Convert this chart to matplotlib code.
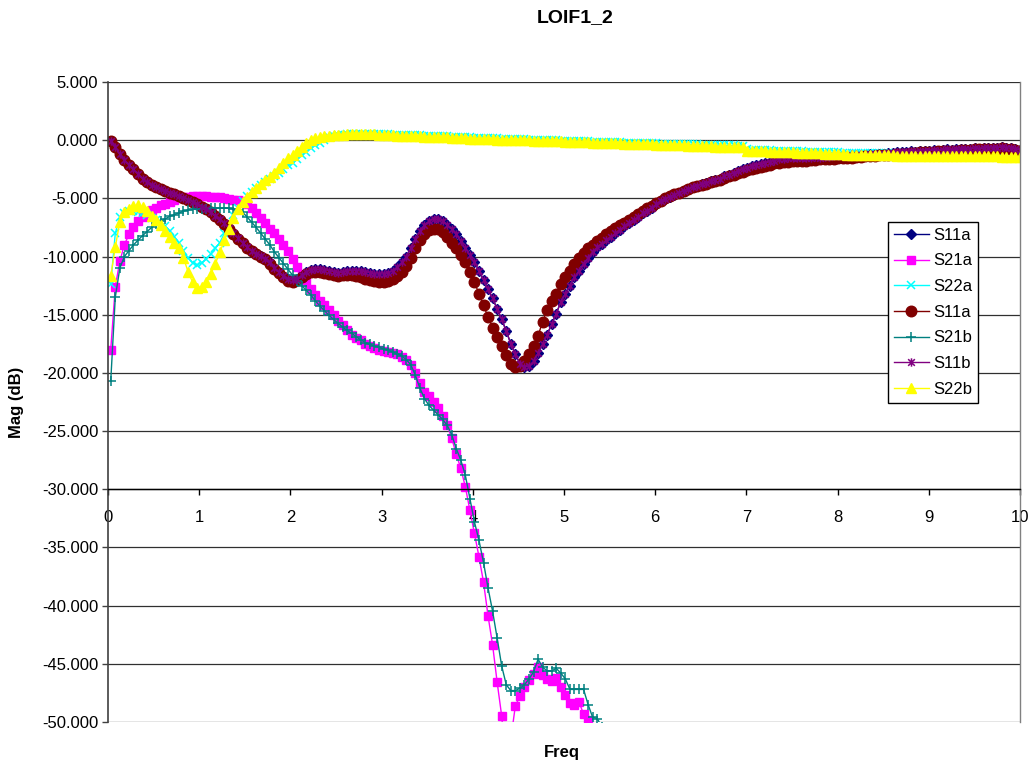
import numpy as np
import matplotlib
matplotlib.use("Agg")
import matplotlib.pyplot as plt
from matplotlib.path import Path
from matplotlib.ticker import FixedLocator, FormatStrFormatter

plt.rcParams['font.family'] = ['Liberation Sans', 'DejaVu Sans']

# ---------------- data ----------------
# uniform sweep: 201 points from 0.03 to 10 (Freq)
FREQ_START = 0.03
FREQ_STOP = 10.0
N_POINTS = 201
freq = np.linspace(FREQ_START, FREQ_STOP, N_POINTS)

series_names = ["S11a", "S21a", "S22a", "S11a", "S21b", "S11b", "S22b"]

s11b = [
    -0.1, -0.6, -1.2, -1.7, -2.1, -2.5, -2.9, -3.3, -3.6, -3.85,
    -4.05, -4.2, -4.35, -4.5, -4.65, -4.8, -4.95, -5.1, -5.3, -5.5,
    -5.7, -5.95, -6.2, -6.5, -6.8, -7.15, -7.55, -8.0, -8.4, -8.8,
    -9.2, -9.5, -9.75, -9.95, -10.2, -10.5, -10.95, -11.35, -11.7, -11.95,
    -12.0, -11.9, -11.6, -11.3, -11.15, -11.1, -11.1, -11.15, -11.2, -11.3,
    -11.4, -11.35, -11.25, -11.2, -11.2, -11.25, -11.3, -11.4, -11.5, -11.5,
    -11.5, -11.4, -11.2, -10.9, -10.5, -10.0, -9.3, -8.5, -7.8, -7.3,
    -6.95, -6.8, -6.8, -6.95, -7.25, -7.6, -8.1, -8.7, -9.3, -9.9,
    -10.5, -11.2, -12.0, -12.8, -13.6, -14.5, -15.4, -16.4, -17.5, -18.4,
    -19.2, -19.5, -19.4, -19.0, -18.3, -17.5, -16.7, -15.8, -14.9, -13.9,
    -13.2, -12.5, -11.8, -11.2, -10.6, -10.1, -9.6, -9.2, -8.9, -8.6,
    -8.3, -8.0, -7.7, -7.4, -7.1, -6.85, -6.6, -6.3, -6.05, -5.8,
    -5.5, -5.25, -5.05, -4.85, -4.7, -4.5, -4.35, -4.2, -4.05, -3.9,
    -3.8, -3.7, -3.55, -3.4, -3.3, -3.1, -2.95, -2.8, -2.65, -2.5,
    -2.4, -2.25, -2.15, -2.05, -1.95, -1.85, -1.75, -1.65, -1.6, -1.55,
    -1.55, -1.5, -1.5, -1.5, -1.5, -1.45, -1.5, -1.45, -1.45, -1.4,
    -1.4, -1.35, -1.35, -1.3, -1.3, -1.25, -1.3, -1.2, -1.2, -1.15,
    -1.15, -1.1, -1.1, -1.05, -1.0, -1.05, -0.95, -1.0, -0.9, -0.95,
    -0.9, -0.85, -0.9, -0.85, -0.8, -0.85, -0.8, -0.75, -0.8, -0.75,
    -0.7, -0.75, -0.7, -0.65, -0.7, -0.65, -0.6, -0.65, -0.7, -0.75,
    -0.85,
]

# first S11a trace (navy) lies under S11b
s11a_1 = s11b

s11a_2 = [
    -0.1, -0.6, -1.2, -1.7, -2.1, -2.5, -2.9, -3.3, -3.6, -3.85,
    -4.05, -4.2, -4.35, -4.5, -4.65, -4.8, -4.95, -5.1, -5.3, -5.5,
    -5.7, -5.95, -6.2, -6.5, -6.85, -7.2, -7.6, -8.05, -8.45, -8.85,
    -9.25, -9.55, -9.8, -10.0, -10.25, -10.6, -11.05, -11.45, -11.8, -12.1,
    -12.2, -12.0, -11.8, -11.5, -11.35, -11.3, -11.35, -11.4, -11.5, -11.6,
    -11.7, -11.6, -11.55, -11.6, -11.7, -11.8, -11.9, -12.0, -12.1, -12.15,
    -12.15, -12.1, -11.95, -11.7, -11.3, -10.8, -10.1, -9.3, -8.6, -8.1,
    -7.7, -7.6, -7.6, -7.9, -8.3, -8.8, -9.3, -9.9, -10.5, -11.3,
    -12.2, -13.2, -14.2, -15.2, -16.1, -16.9, -17.7, -18.5, -19.2, -19.5,
    -19.4, -19.0, -18.4, -17.7, -16.8, -15.6, -14.6, -13.8, -13.2, -12.4,
    -11.8, -11.2, -10.6, -10.1, -9.7, -9.3, -9.0, -8.7, -8.4, -8.1,
    -7.8, -7.55, -7.3, -7.1, -6.85, -6.6, -6.35, -6.1, -5.85, -5.65,
    -5.4, -5.2, -5.0, -4.8, -4.65, -4.5, -4.35, -4.2, -4.05, -3.95,
    -3.85, -3.75, -3.6, -3.5, -3.4, -3.25, -3.1, -2.95, -2.85, -2.75,
    -2.6, -2.5, -2.4, -2.3, -2.2, -2.1, -2.0, -1.95, -1.9, -1.85,
    -1.8, -1.8, -1.75, -1.75, -1.7, -1.7, -1.65, -1.65, -1.6, -1.6,
    -1.55, -1.55, -1.5, -1.5, -1.45, -1.45, -1.4, -1.4, -1.35, -1.3,
    -1.3, -1.25, -1.25, -1.2, -1.15, -1.15, -1.1, -1.1, -1.05, -1.05,
    -1.0, -1.0, -0.95, -0.95, -0.9, -0.9, -0.9, -0.85, -0.85, -0.85,
    -0.8, -0.8, -0.8, -0.75, -0.75, -0.75, -0.7, -0.75, -0.8, -0.85,
    -0.9,
]

s22a = [
    -12.4, -8.0, -6.6, -6.3, -6.1, -6.1, -6.15, -6.25, -6.45, -6.65,
    -6.85, -7.05, -7.4, -7.8, -8.3, -8.8, -9.5, -10.1, -10.55, -10.7,
    -10.55, -10.2, -9.8, -9.3, -8.8, -8.0, -7.2, -6.4, -5.8, -5.25,
    -4.8, -4.45, -4.15, -3.85, -3.6, -3.35, -3.1, -2.8, -2.45, -2.15,
    -2.0, -1.65, -1.3, -1.0, -0.7, -0.45, -0.2, 0.05, 0.25, 0.35,
    0.42, 0.46, 0.5, 0.52, 0.53, 0.54, 0.54, 0.53, 0.52, 0.51,
    0.5, 0.49, 0.48, 0.47, 0.46, 0.45, 0.44, 0.42, 0.41, 0.4,
    0.38, 0.36, 0.35, 0.33, 0.32, 0.3, 0.28, 0.27, 0.25, 0.24,
    0.22, 0.2, 0.19, 0.17, 0.16, 0.15, 0.13, 0.12, 0.1, 0.09,
    0.08, 0.07, 0.05, 0.04, 0.03, 0.02, 0.0, -0.01, -0.02, -0.03,
    -0.05, -0.06, -0.07, -0.08, -0.1, -0.11, -0.12, -0.13, -0.14, -0.16,
    -0.17, -0.18, -0.19, -0.2, -0.21, -0.22, -0.24, -0.25, -0.26, -0.27,
    -0.28, -0.29, -0.3, -0.31, -0.32, -0.33, -0.34, -0.35, -0.36, -0.37,
    -0.38, -0.39, -0.4, -0.41, -0.42, -0.43, -0.44, -0.45, -0.46, -0.47,
    -0.8, -0.82, -0.83, -0.85, -0.86, -0.88, -0.89, -0.9, -0.92, -0.93,
    -0.94, -0.95, -0.97, -0.98, -0.99, -1.0, -1.01, -1.02, -1.03, -1.04,
    -1.05, -1.06, -1.07, -1.08, -1.09, -1.1, -1.1, -1.11, -1.12, -1.13,
    -1.13, -1.14, -1.15, -1.15, -1.16, -1.17, -1.17, -1.18, -1.18, -1.19,
    -1.19, -1.2, -1.2, -1.21, -1.21, -1.22, -1.22, -1.23, -1.23, -1.23,
    -1.24, -1.24, -1.25, -1.25, -1.25, -1.26, -1.26, -1.26, -1.27, -1.27,
    -1.28,
]

s22b = [
    -11.7, -9.2, -7.0, -6.2, -5.9, -5.65, -5.6, -5.75, -6.1, -6.5,
    -6.9, -7.3, -7.8, -8.3, -8.8, -9.3, -10.1, -11.3, -12.2, -12.7,
    -12.6, -12.2, -11.5, -10.6, -9.65, -8.6, -7.6, -6.7, -5.9, -5.3,
    -4.85, -4.45, -4.1, -3.75, -3.45, -3.15, -2.8, -2.4, -1.95, -1.5,
    -1.3, -0.9, -0.55, -0.25, 0.0, 0.15, 0.25, 0.32, 0.37, 0.42,
    0.45, 0.48, 0.5, 0.5, 0.52, 0.5, 0.52, 0.5, 0.5, 0.48,
    0.47, 0.45, 0.42, 0.4, 0.38, 0.36, 0.35, 0.33, 0.32, 0.3,
    0.3, 0.28, 0.27, 0.25, 0.24, 0.22, 0.2, 0.18, 0.16, 0.14,
    0.12, 0.1, 0.1, 0.08, 0.07, 0.05, 0.05, 0.04, 0.03, 0.02,
    0.0, 0.0, -0.02, -0.03, -0.05, -0.05, -0.07, -0.08, -0.1, -0.1,
    -0.12, -0.13, -0.15, -0.15, -0.17, -0.18, -0.2, -0.2, -0.22, -0.23,
    -0.25, -0.27, -0.28, -0.3, -0.3, -0.32, -0.33, -0.35, -0.35, -0.37,
    -0.38, -0.4, -0.4, -0.42, -0.43, -0.45, -0.45, -0.47, -0.48, -0.5,
    -0.5, -0.52, -0.53, -0.55, -0.55, -0.57, -0.58, -0.6, -0.6, -0.62,
    -0.9, -0.92, -0.94, -0.96, -0.97, -0.99, -1.0, -1.02, -1.03, -1.04,
    -1.05, -1.07, -1.08, -1.1, -1.11, -1.13, -1.14, -1.16, -1.17, -1.19,
    -1.22, -1.23, -1.24, -1.25, -1.26, -1.27, -1.28, -1.28, -1.29, -1.3,
    -1.3, -1.31, -1.31, -1.32, -1.32, -1.33, -1.33, -1.34, -1.34, -1.35,
    -1.35, -1.35, -1.36, -1.36, -1.37, -1.37, -1.37, -1.38, -1.38, -1.38,
    -1.39, -1.39, -1.39, -1.4, -1.4, -1.4, -1.41, -1.41, -1.41, -1.42,
    -1.42,
]

# S21 traces: only the part above the -50 dB axis floor can be read;
# the traces leave the plot through the bottom edge after ~5.4.
s21a = [
    -18.0, -12.6, -10.4, -9.0, -8.1, -7.5, -6.95, -6.6, -6.3, -6.0,
    -5.8, -5.6, -5.45, -5.3, -5.15, -5.0, -4.9, -4.85, -4.8, -4.8,
    -4.8, -4.8, -4.85, -4.85, -4.9, -4.95, -5.05, -5.1, -5.15, -5.25,
    -5.5, -5.85, -6.25, -6.7, -7.15, -7.6, -8.0, -8.5, -9.0, -9.5,
    -10.2, -10.9, -11.6, -12.2, -12.75, -13.3, -13.8, -14.2, -14.6, -15.0,
    -15.5, -15.9, -16.3, -16.7, -17.0, -17.2, -17.5, -17.7, -17.85, -18.0,
    -18.1, -18.2, -18.3, -18.4, -18.6, -18.85, -19.3, -20.0, -20.9, -21.6,
    -22.0, -22.5, -23.0, -23.7, -24.5, -25.6, -27.0, -28.2, -29.8, -31.8,
    -33.8, -35.8, -38.0, -40.9, -43.4, -46.6, -49.5, -54.0, -51.5, -48.6,
    -47.8, -47.0, -46.4, -45.9, -45.3, -46.0, -46.3, -46.5, -46.2, -47.0,
    -47.7, -48.4, -48.5, -48.3, -49.3, -49.8, -51.5, -53.0, -54.5, -55.5,
]

s21b = [
    -20.7, -13.5, -11.0, -10.0, -9.5, -9.0, -8.6, -8.2, -7.85, -7.5,
    -7.2, -6.95, -6.75, -6.55, -6.4, -6.25, -6.1, -6.0, -5.95, -5.9,
    -5.9, -5.9, -5.85, -5.85, -5.85, -5.85, -5.85, -5.9, -6.0, -6.2,
    -6.6, -7.05, -7.5, -8.0, -8.5, -9.0, -9.6, -10.1, -10.6, -11.1,
    -11.6, -12.1, -12.5, -12.9, -13.3, -13.8, -14.25, -14.65, -15.05, -15.4,
    -15.75, -16.05, -16.35, -16.6, -16.9, -17.15, -17.4, -17.55, -17.7, -17.8,
    -17.95, -18.05, -18.2, -18.35, -18.55, -18.85, -19.3, -20.2, -21.3, -22.2,
    -22.8, -23.2, -23.6, -24.0, -24.5, -25.3, -26.5, -27.5, -28.8, -30.8,
    -32.8, -34.4, -36.3, -38.5, -40.5, -42.8, -45.2, -46.8, -47.3, -47.3,
    -47.1, -46.8, -46.3, -45.7, -44.6, -45.3, -45.6, -45.6, -45.4, -45.8,
    -46.3, -47.2, -47.2, -47.2, -47.2, -48.5, -49.6, -49.7, -50.4, -51.5,
]

y_ticks = [-50, -45, -40, -35, -30, -25, -20, -15, -10, -5, 0, 5]
x_ticks = [0, 1, 2, 3, 4, 5, 6, 7, 8, 9, 10]

# ---------------- styling ----------------
asterisk = Path([(-1, -1), (1, 1), (-1, 1), (1, -1), (0, -1.25), (0, 1.25)],
                [Path.MOVETO, Path.LINETO] * 3)

styles = [
    dict(color="#000080", marker="D", ms=5.0, mfc="#000080", mec="#000080"),
    dict(color="#FF00FF", marker="s", ms=6.4, mfc="#FF00FF", mec="#FF00FF"),
    dict(color="#00FFFF", marker="x", ms=6.0, mew=1.1),
    dict(color="#800000", marker="o", ms=7.6, mfc="#800000", mec="#800000"),
    dict(color="#008080", marker="+", ms=7.2, mew=1.1),
    dict(color="#800080", marker=asterisk, ms=6.0, mew=1.1, mfc="none", mec="#800080"),
    dict(color="#FFFF00", marker="^", ms=7.4, mfc="#FFFF00", mec="#FFFF00"),
]

data_list = [s11a_1, s21a, s22a, s11a_2, s21b, s11b, s22b]

W, H = 1034, 767
fig = plt.figure(figsize=(W / 100, H / 100), dpi=100)
ax = fig.add_axes([108 / W, (H - 722) / H, (1020 - 108) / W, (722 - 82) / H])

for name, vals, st in zip(series_names, data_list, styles):
    n = len(vals)
    ax.plot(freq[:n], vals, lw=1.0, label=name, **st)

ax.set_xlim(0, 10)
ax.set_ylim(-50, 5)
ax.yaxis.set_major_locator(FixedLocator(y_ticks))
ax.yaxis.set_major_formatter(FormatStrFormatter('%.3f'))
ax.xaxis.set_major_locator(FixedLocator(x_ticks))
ax.set_xticklabels([str(t) for t in x_ticks])

ax.grid(axis='y', color='#303030', lw=0.9)
ax.set_axisbelow(True)

ax.spines['bottom'].set_position(('data', -30))
ax.spines['bottom'].set_color('#000000')
ax.spines['bottom'].set_linewidth(1.0)
ax.spines['left'].set_color('#404040')
ax.spines['left'].set_linewidth(1.2)
ax.spines['top'].set_visible(False)
ax.spines['right'].set_color('#808080')
ax.spines['right'].set_linewidth(1.0)

ax.tick_params(axis='y', direction='out', length=4, width=1, color='#404040',
               labelsize=12, pad=3)
ax.tick_params(axis='x', direction='out', length=4, width=1, color='#000000',
               labelsize=12, pad=11)

ax.yaxis.set_label_coords((24 - 108) / (1020 - 108), 0.5)
ax.set_ylabel("Mag (dB)", fontsize=12, fontweight='bold')

fig.text(575 / W, 1 - 18 / H, "LOIF1_2", ha='center', va='center',
         fontsize=14, fontweight='bold')
fig.text(562 / W, 1 - 752 / H, "Freq", ha='center', va='center',
         fontsize=12, fontweight='bold')

leg = ax.legend(loc='upper left', bbox_to_anchor=(888 / W, 1 - 222 / H),
                bbox_transform=fig.transFigure, frameon=True, fancybox=False,
                fontsize=12, handlelength=2.1, handletextpad=0.25,
                labelspacing=0.64, borderpad=0.35, borderaxespad=0.0,
                framealpha=1.0)
leg.get_frame().set_edgecolor('#000000')
leg.get_frame().set_linewidth(1.0)

fig.savefig("out.png", dpi=100)
